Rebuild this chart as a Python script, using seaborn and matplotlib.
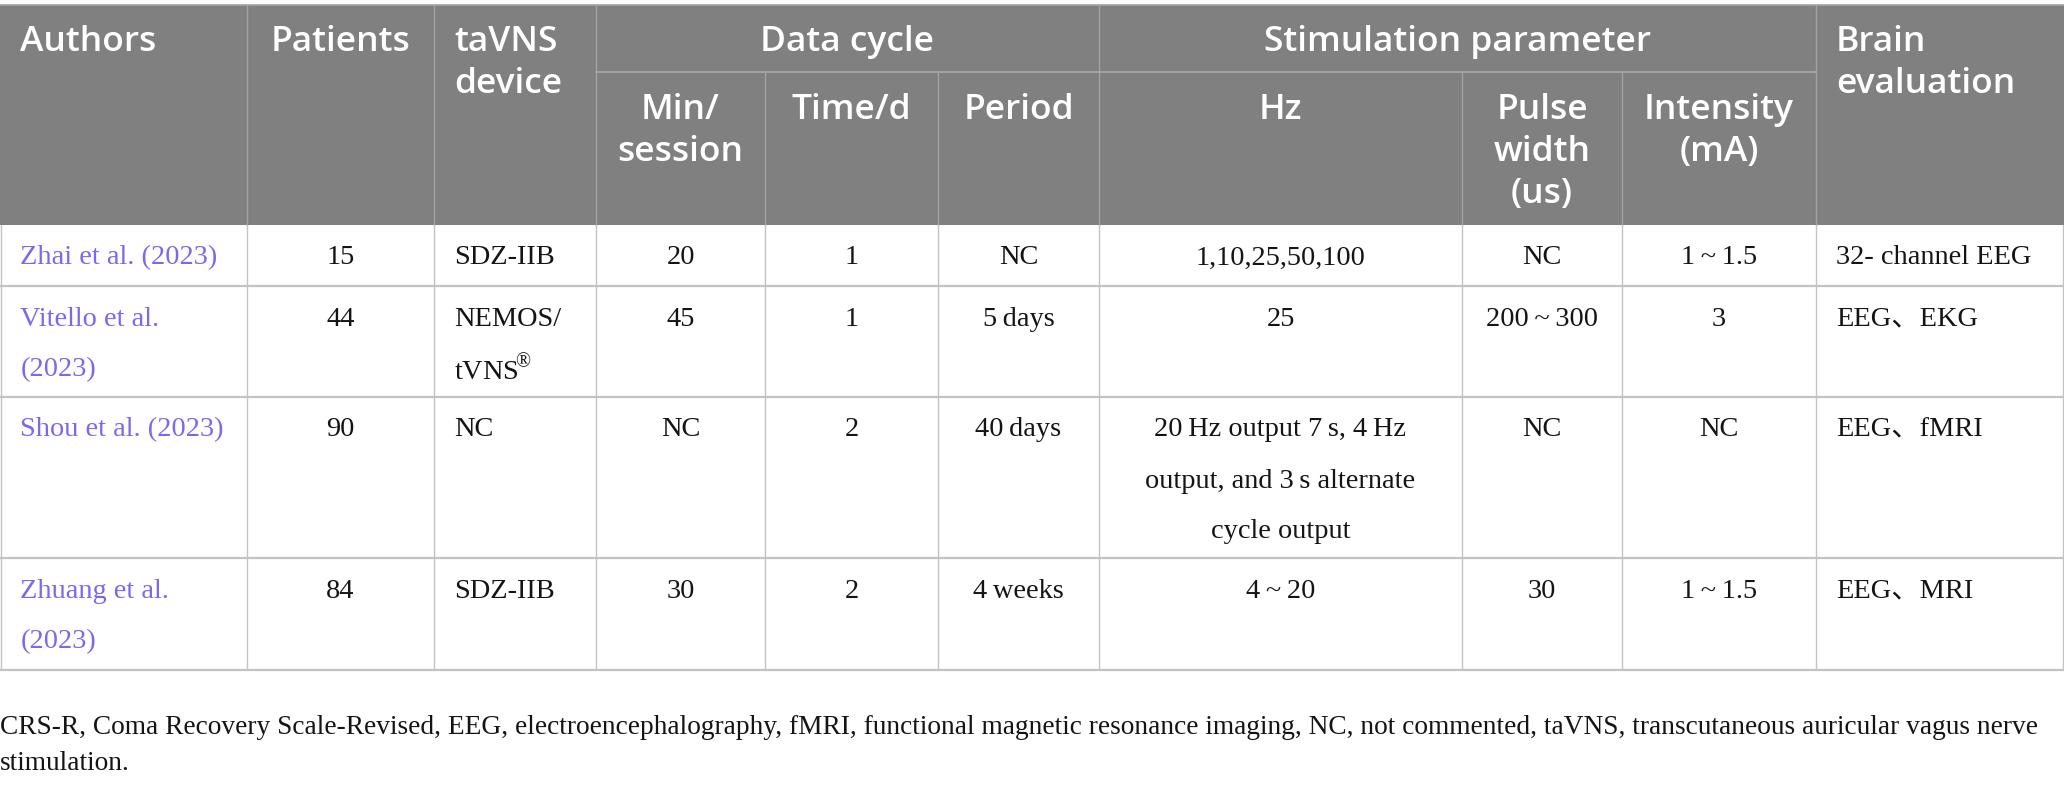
import pandas as pd
import seaborn as sns
import matplotlib.pyplot as plt
from matplotlib.patches import Rectangle

# Table content
authors = ["Zhai et al. (2023)", "Vitello et al.\n(2023)", "Shou et al. (2023)", "Zhuang et al.\n(2023)"]
patients = ["15", "44", "90", "84"]
devices = ["SDZ-IIB", "NEMOS/\ntVNS$^{\\!\u00ae}$", "NC", "SDZ-IIB"]
min_session = ["20", "45", "NC", "30"]
time_per_day = ["1", "1", "2", "2"]
periods = ["NC", "5\u2009days", "40\u2009days", "4\u2009weeks"]
hz = ["1,10,25,50,100", "25",
      "20\u2009Hz output 7\u2009s, 4\u2009Hz\noutput, and 3\u2009s alternate\ncycle output",
      "4\u2009~\u200920"]
pulse_width = ["NC", "200\u2009~\u2009300", "NC", "30"]
intensity = ["1\u2009~\u20091.5", "3", "NC", "1\u2009~\u20091.5"]
brain_eval = ["32- channel EEG", "EEG\u3001EKG", "EEG\u3001fMRI", "EEG\u3001MRI"]

top_headers = ["Authors", "Patients", "taVNS\ndevice", "Data cycle", "Stimulation parameter", "Brain\nevaluation"]
sub_headers = ["Min/\nsession", "Time/d", "Period", "Hz", "Pulse\nwidth\n(us)", "Intensity\n(mA)"]

footnote = ["CRS-R, Coma Recovery Scale-Revised, EEG, electroencephalography, fMRI, functional magnetic resonance "
            "imaging, NC, not commented, taVNS, transcutaneous auricular vagus nerve",
            "stimulation."]

df = pd.DataFrame({"authors": authors, "patients": patients, "device": devices,
                   "min": min_session, "time": time_per_day, "period": periods,
                   "hz": hz, "pulse": pulse_width, "intensity": intensity, "brain": brain_eval})

sns.set_theme(style="white")
plt.rcParams['font.family'] = ['Liberation Serif', 'Noto Sans CJK SC', 'DejaVu Serif']
plt.rcParams['mathtext.fontset'] = 'custom'
plt.rcParams['mathtext.rm'] = 'Liberation Serif'

W, H = 2064, 785
fig = plt.figure(figsize=(W / 100, H / 100), dpi=100)
ax = fig.add_axes([0, 0, 1, 1])
ax.set_xlim(0, W)
ax.set_ylim(H, 0)
ax.axis('off')

# layout (pixels)
col_x = [0.5, 247, 434, 596, 765, 938, 1099, 1462, 1622, 1816, 2063]
row_y = [225, 286, 397, 558, 670]
head_top, head_mid = 5, 72
align = ['left', 'center', 'left', 'center', 'center', 'center', 'center', 'center', 'center', 'left']
pad = 20

gray = '#7f807f'
head_line = '#a2a3a2'
body_line = '#c3c3c3'
link = '#7b68ee'

# header background
ax.add_patch(Rectangle((0, head_top), W, row_y[0] - head_top, color=gray, lw=0, zorder=1))
ax.plot([0, W], [head_top - 0.5, head_top - 0.5], color=head_line, lw=1.2, zorder=2)

# header separators
for i, x in enumerate(col_x[1:-1], start=1):
    y0 = head_mid if i in (4, 5, 7, 8) else head_top
    ax.plot([x, x], [y0, row_y[0]], color=head_line, lw=1, zorder=2)
ax.plot([col_x[3], col_x[9]], [head_mid, head_mid], color=head_line, lw=1.4, zorder=2)

# body grid
for x in col_x:
    ax.plot([x, x], [row_y[0], row_y[-1]], color=body_line, lw=1, zorder=2)
for y in row_y[1:]:
    ax.plot([0, W], [y, y], color=body_line, lw=1.6, zorder=2)


def put(x0, x1, y, txt, ha, spacing, **kw):
    xx = x0 + pad if ha == 'left' else (x0 + x1) / 2
    for k, line in enumerate(txt.split("\n")):
        ax.text(xx, y + k * spacing, line, ha=ha, va='center', zorder=3, **kw)


hkw = dict(color='white', fontsize=25.5, fontweight='semibold', family=['Open Sans', 'DejaVu Sans'])
# top header row
top_spans = [(0, 1), (1, 2), (2, 3), (3, 6), (6, 9), (9, 10)]
top_align = ['left', 'center', 'left', 'center', 'center', 'left']
for (a, b), txt, ha in zip(top_spans, top_headers, top_align):
    put(col_x[a], col_x[b], 42, txt, ha, 42, **hkw)
# sub header row
for j, txt in enumerate(sub_headers):
    c = 3 + j
    put(col_x[c], col_x[c + 1], 110, txt, 'center', 42, **hkw)

# body rows
for r in range(len(df)):
    y = row_y[r] + 33
    for c, name in enumerate(df.columns):
        color = link if name == "authors" else '#141414'
        put(col_x[c], col_x[c + 1], y, df.iloc[r][name], align[c], 51,
            color=color, fontsize=20.4)

# footnote
for k, line in enumerate(footnote):
    ax.text(0, 728 + k * 36, line, ha='left', va='center', fontsize=19.7, color='#141414')

fig.savefig("out.png", dpi=100)
